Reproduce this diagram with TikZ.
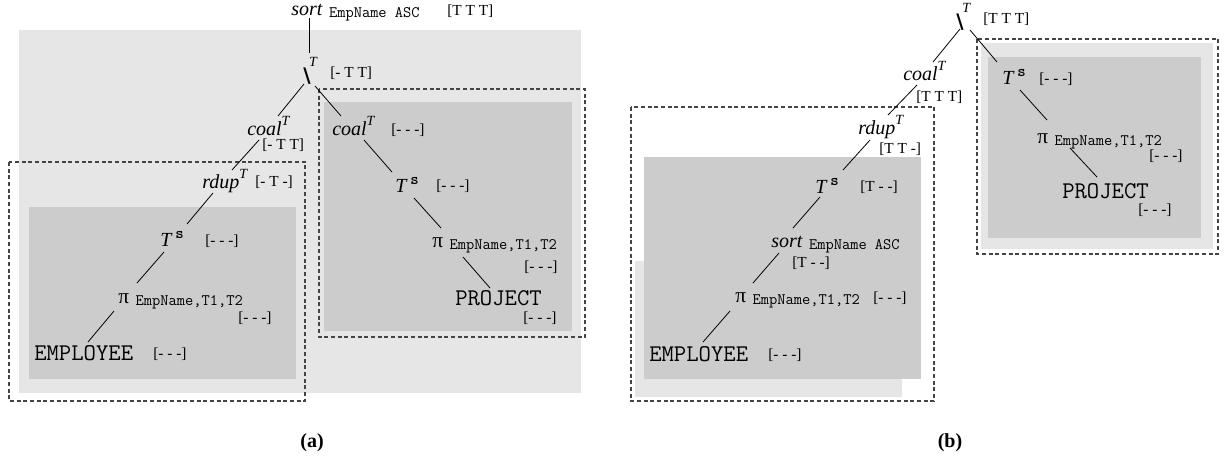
\documentclass[tikz,border=0pt]{standalone}
\usepackage{fontspec}
\setmainfont{Liberation Serif}
\newfontfamily\opsymfont{DejaVu Sans}
\usetikzlibrary{shapes}
\usetikzlibrary{arrows}
\definecolor{lightbox}{HTML}{E6E6E6}
\definecolor{darkbox}{HTML}{CCCCCC}
\definecolor{dashgray}{HTML}{444444}
\newcommand{\supT}{\raisebox{7.5pt}{\fontsize{10.5}{10.5}\selectfont\itshape T}}
\newcommand{\supS}{\hspace{3pt}\raisebox{6pt}{\fontsize{12}{12}\selectfont\upshape\ttfamily\bfseries s}}
\newcommand{\attr}[1]{\hspace{5pt}\raisebox{-2pt}{\fontsize{12}{12}\selectfont\upshape\ttfamily #1}}
\newcommand{\diffop}{{\fontsize{15}{15}\selectfont\opsymfont\upshape\bfseries\textbackslash}\hspace{-1pt}\raisebox{12pt}{\fontsize{10.5}{10.5}\selectfont\itshape T}}
\begin{document}
\begin{tikzpicture}[x=0.75pt,y=-0.75pt,
	op/.style={anchor=base west,inner sep=0pt,font=\fontsize{15}{18}\selectfont\itshape},
	pinode/.style={anchor=base west,inner sep=0pt,font=\fontsize{16}{18}\selectfont},
	rel/.style={anchor=base west,inner sep=0pt,font=\fontsize{18}{20}\selectfont\ttfamily},
	ann/.style={anchor=west,inner sep=0pt,font=\fontsize{11.5}{14}\selectfont},
	edge/.style={line width=0.6pt},
	outer/.style={dashgray,line width=0.8pt,dash pattern=on 3pt off 2pt},
	caption/.style={font=\fontsize{15}{17}\selectfont\bfseries}
	]
	\useasboundingbox (0,0) rectangle (1228,462);
	\fill[lightbox] (19,30) rectangle (581,393);
	\fill[darkbox] (29,207) rectangle (296,379);
	\fill[darkbox] (324,102) rectangle (572,331);
	\draw[outer] (9,162) rectangle (305,401);
	\draw[outer] (319,89) rectangle (585,337);
	\draw[outer] (631,107) rectangle (934,401);
	\fill[lightbox] (635,261) rectangle (902,397);
	\fill[darkbox] (644,157) rectangle (921,379);
	\fill[lightbox] (981,43) rectangle (1213,249);
	\fill[darkbox] (988,57) rectangle (1201,238);
	\draw[outer] (977,39) rectangle (1218,254);

	\node[op] (sortA) at (291,15) {sort\attr{EmpName ASC}};
	\node[ann] (sortAann) at (447,11) {[T T T]};
	\node[op] (diffA) at (303,82) {\diffop};
	\node[ann] (diffAann) at (330,73) {[- T T]};
	\node[op] (coalA) at (247,135) {coal\supT};
	\node[ann] (coalAann) at (262,145) {[- T T]};
	\node[op] (rdupA) at (202,188) {rdup\supT};
	\node[ann] (rdupAann) at (255,182) {[- T -]};
	\node[op] (TsA) at (160,246) {T\supS};
	\node[ann] (TsAann) at (205,241) {[- - -]};
	\node[pinode] (piA) at (118,303) {π\attr{EmpName,T1,T2}};
	\node[ann] (piAann) at (238,318) {[- - -]};
	\node[rel] (empA) at (34,360) {EMPLOYEE};
	\node[ann] (empAann) at (153,354) {[- - -]};
	\node[op] (coalB) at (332,135) {coal\supT};
	\node[ann] (coalBann) at (391,130) {[- - -]};
	\node[op] (TsB) at (395,192) {T\supS};
	\node[ann] (TsBann) at (436,186) {[- - -]};
	\node[pinode] (piB) at (432,247) {π\attr{EmpName,T1,T2}};
	\node[ann] (piBann) at (524,267) {[- - -]};
	\node[rel] (projB) at (455,305) {PROJECT};
	\node[ann] (projBann) at (523,318) {[- - -]};

	\node[op] (diffC) at (956,28) {\diffop};
	\node[ann] (diffCann) at (983,19) {[T T T]};
	\node[op] (coalC) at (903,80) {coal\supT};
	\node[ann] (coalCann) at (916,97) {[T T T]};
	\node[op] (rdupC) at (858,134) {rdup\supT};
	\node[ann] (rdupCann) at (879,149) {[T T -]};
	\node[op] (TsC) at (815,193) {T\supS};
	\node[ann] (TsCann) at (860,187) {[T - -]};
	\node[op] (sortC) at (771,247) {sort\attr{EmpName ASC}};
	\node[ann] (sortCann) at (792,263) {[T - -]};
	\node[pinode] (piC) at (735,302) {π\attr{EmpName,T1,T2}};
	\node[ann] (piCann) at (873,298) {[- - -]};
	\node[rel] (empC) at (649,361) {EMPLOYEE};
	\node[ann] (empCann) at (768,355) {[- - -]};
	\node[op] (TsD) at (1002,84) {T\supS};
	\node[ann] (TsDann) at (1039,79) {[- - -]};
	\node[pinode] (piD) at (1037,143) {π\attr{EmpName,T1,T2}};
	\node[ann] (piDann) at (1149,156) {[- - -]};
	\node[rel] (projD) at (1062,198) {PROJECT};
	\node[ann] (projDann) at (1138,210) {[- - -]};

	\draw[edge] ([shift={(18,3)}]sortA.base west) -- ([shift={(6,-29)}]diffA.base west);
	\draw[edge] ([shift={(1,2)}]diffA.base west) -- ([shift={(31,-19)}]coalA.base west);
	\draw[edge] ([shift={(12,4)}]diffA.base west) -- ([shift={(9,-19)}]coalB.base west);
	\draw[edge] ([shift={(12,5)}]coalA.base west) -- ([shift={(30,-18)}]rdupA.base west);
	\draw[edge] ([shift={(11,5)}]rdupA.base west) -- ([shift={(27,-22)}]TsA.base west);
	\draw[edge] ([shift={(4,6)}]TsA.base west) -- ([shift={(19,-20)}]piA.base west);
	\draw[edge] ([shift={(-4,8)}]piA.base west) -- ([shift={(54,-18)}]empA.base west);
	\draw[edge] ([shift={(32,5)}]coalB.base west) -- ([shift={(-3,-20)}]TsB.base west);
	\draw[edge] ([shift={(19,6)}]TsB.base west) -- ([shift={(9,-19)}]piB.base west);
	\draw[edge] ([shift={(31,10)}]piB.base west) -- ([shift={(35,-17)}]projB.base west);

	\draw[edge] ([shift={(4,1)}]diffC.base west) -- ([shift={(30,-18)}]coalC.base west);
	\draw[edge] ([shift={(14,2)}]diffC.base west) -- ([shift={(-5,-22)}]TsD.base west);
	\draw[edge] ([shift={(14,5)}]coalC.base west) -- ([shift={(30,-19)}]rdupC.base west);
	\draw[edge] ([shift={(12,6)}]rdupC.base west) -- ([shift={(28,-23)}]TsC.base west);
	\draw[edge] ([shift={(5,4)}]TsC.base west) -- ([shift={(22,-19)}]sortC.base west);
	\draw[edge] ([shift={(8,6)}]sortC.base west) -- ([shift={(18,-19)}]piC.base west);
	\draw[edge] ([shift={(-5,9)}]piC.base west) -- ([shift={(54,-19)}]empC.base west);
	\draw[edge] ([shift={(18,6)}]TsD.base west) -- ([shift={(10,-23)}]piD.base west);
	\draw[edge] ([shift={(33,5)}]piD.base west) -- ([shift={(35,-21)}]projD.base west);

	\node[caption] (capA) at (312,443) {(a)};
	\node[caption] (capB) at (950,443) {(b)};
\end{tikzpicture}
\end{document}
